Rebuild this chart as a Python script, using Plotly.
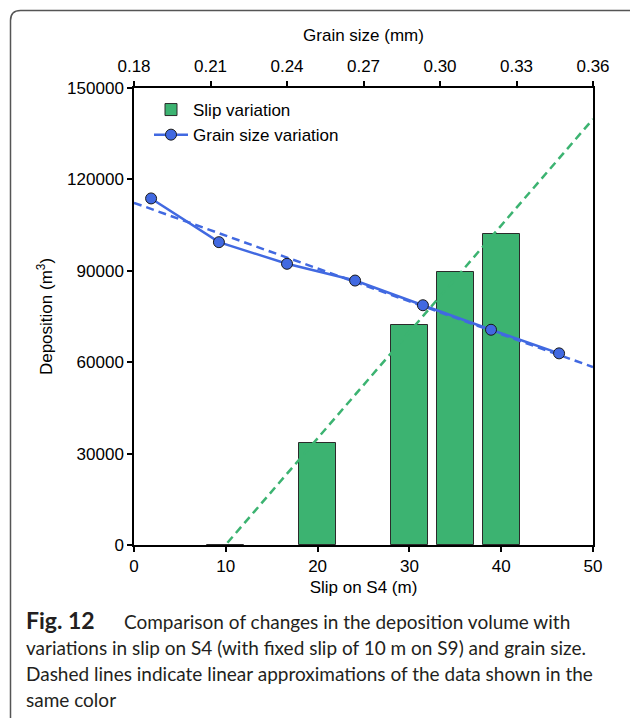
import numpy as np
import plotly.graph_objects as go

# Deposition for varied slip on S4 (bottom axis, slip in m)
slip_m = [10, 20, 30, 35, 40]
slip_deposition = [0, 33500, 72200, 89700, 102000]

# Deposition for varied grain size (top axis, grain size in mm)
grain_mm = [0.1867, 0.2133, 0.2400, 0.2667, 0.2933, 0.3200, 0.3467]
grain_deposition = [113750, 99400, 92300, 86800, 78700, 70650, 62900]

slip_ticks = [0, 10, 20, 30, 40, 50]
grain_ticks = [0.18, 0.21, 0.24, 0.27, 0.30, 0.33, 0.36]
grain_tick_labels = ["0.18", "0.21", "0.24", "0.27", "0.30", "0.33", "0.36"]
deposition_ticks = [0, 30000, 60000, 90000, 120000, 150000]

caption_lines = [
    "<b><span style='font-size:23px'>Fig. 12</span></b>" + "&nbsp;" * 6
    + "Comparison of changes in the deposition volume with",
    "variations in slip on S4 (with fixed slip of 10 m on S9) and grain size.",
    "Dashed lines indicate linear approximations of the data shown in the",
    "same color",
]

GREEN = "#3CB371"
BLUE = "#4169E1"
FONT = "Liberation Sans, Arial, sans-serif"
FS = 17

W, H = 630, 718
L, R, T, B = 134, 593, 88, 545  # plot area in pixels


def px_x(px):
    return (px - L) / (R - L)


def px_y(py):
    return (B - py) / (B - T)


# Linear approximations of both series
slip_fit = np.polyfit(slip_m, slip_deposition, 1)
grain_fit = np.polyfit(grain_mm, grain_deposition, 1)
slip_fit_x = np.array([0.0, 50.0])
grain_fit_x = np.array([0.18, 0.36])

fig = go.Figure()

fig.add_trace(go.Bar(
    x=slip_m, y=slip_deposition, width=4,
    marker=dict(color=GREEN, line=dict(color="#2b2b2b", width=1)),
    name="Slip variation", xaxis="x", yaxis="y",
))
fig.add_trace(go.Scatter(
    x=slip_fit_x, y=np.polyval(slip_fit, slip_fit_x), mode="lines",
    line=dict(color=GREEN, width=2.5, dash="8px,5px"),
    showlegend=False, xaxis="x", yaxis="y",
))
fig.add_trace(go.Scatter(
    x=grain_fit_x, y=np.polyval(grain_fit, grain_fit_x), mode="lines",
    line=dict(color=BLUE, width=2.5, dash="8px,5px"),
    showlegend=False, xaxis="x2", yaxis="y",
))
fig.add_trace(go.Scatter(
    x=grain_mm, y=grain_deposition, mode="lines+markers",
    line=dict(color=BLUE, width=2.5),
    marker=dict(color=BLUE, size=11, line=dict(color="#1a1a1a", width=1)),
    name="Grain size variation", xaxis="x2", yaxis="y",
))

axis_common = dict(
    showline=True, linecolor="black", linewidth=1.5,
    ticks="outside", ticklen=5, tickwidth=1.5, tickcolor="black",
    showgrid=False, zeroline=False,
    tickfont=dict(family=FONT, size=FS, color="black"),
)

fig.update_layout(
    width=W, height=H,
    margin=dict(l=L, r=W - R, t=T, b=H - B),
    paper_bgcolor="white", plot_bgcolor="white",
    font=dict(family=FONT, size=FS, color="black"),
    showlegend=True,
    legend=dict(
        x=px_x(149), y=px_y(92), xanchor="left", yanchor="top",
        bgcolor="rgba(0,0,0,0)", font=dict(family=FONT, size=FS),
        itemwidth=34, traceorder="normal",
    ),
    xaxis=dict(
        range=[0, 50], tickvals=slip_ticks, mirror=True,
        title=dict(text="Slip on S4 (m)", font=dict(family=FONT, size=FS), standoff=6),
        **axis_common,
    ),
    xaxis2=dict(
        range=[0.18, 0.36], tickvals=grain_ticks, ticktext=grain_tick_labels,
        overlaying="x", side="top", anchor="y", ticklabelstandoff=2,
        title=dict(text="Grain size (mm)", font=dict(family=FONT, size=FS), standoff=12),
        **axis_common,
    ),
    yaxis=dict(
        range=[0, 150000], tickvals=deposition_ticks, tickformat="d", mirror=True,
        title=dict(text="Deposition (m<sup>3</sup>)", font=dict(family=FONT, size=FS), standoff=10),
        **axis_common,
    ),
    bargap=0,
)

# Caption below the chart
caption_y = [620, 647, 673, 699]
for text, py in zip(caption_lines, caption_y):
    fig.add_annotation(
        x=px_x(24), y=px_y(py), xref="paper", yref="paper",
        xanchor="left", yanchor="middle", showarrow=False, align="left",
        text=text, font=dict(family="Lato, sans-serif", size=19, color="#231f20"),
    )

# Rounded frame around the figure
x0, xr = px_x(10.5), px_x(632)
y_bot, y_top = px_y(720), px_y(10.5)
rx, ry = 10 / (R - L), 10 / (B - T)
fig.add_shape(
    type="path", xref="paper", yref="paper",
    path=(f"M {x0} {y_bot} L {x0} {y_top - ry} "
          f"Q {x0} {y_top} {x0 + rx} {y_top} L {xr} {y_top}"),
    line=dict(color="#555555", width=1.5),
)

fig.write_html("out.html")
